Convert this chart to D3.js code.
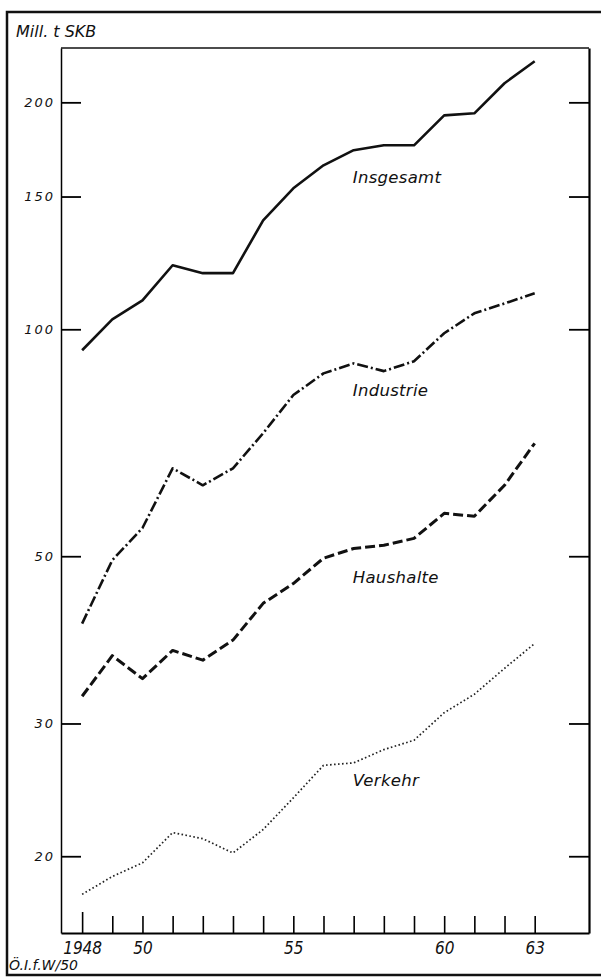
<!DOCTYPE html>
<html>
<head>
<meta charset="utf-8">
<script src="https://cdn.jsdelivr.net/npm/d3@7"></script>
<style>
  body { margin: 0; background: #fff; }
  text { font-family: "DejaVu Sans", sans-serif; font-style: italic; fill: #111; }
</style>
</head>
<body>
<div class="chart"></div>
<script>
// data (Mill. t SKB, log scale)
const years = d3.range(1948, 1964);
const insgesamt = [93.8, 103.1, 109.2, 121.6, 118.7, 118.7, 139.5, 153.8, 165, 172.8, 175.4, 175.4, 192.2, 193.4, 212, 226.7];
const industrie = [40.7, 49.4, 54.5, 65.4, 62.1, 65.4, 72.8, 81.8, 87.4, 90.1, 88.0, 90.7, 98.8, 105, 108.2, 111.6];
const haushalte = [32.6, 36.9, 34.4, 37.5, 36.4, 38.7, 43.3, 46.0, 49.7, 51.2, 51.7, 52.8, 57.0, 56.5, 62.1, 70.6];
const verkehr = [17.8, 18.8, 19.6, 21.5, 21.1, 20.2, 21.7, 23.9, 26.4, 26.6, 27.7, 28.5, 31.0, 32.8, 35.5, 38.3];

const yTicks = [20, 30, 50, 100, 150, 200];
const xLabelYears = [1948, 1950, 1955, 1960, 1963];
const xLabelTexts = ["1948", "50", "55", "60", "63"];
const seriesNames = ["Insgesamt", "Industrie", "Haushalte", "Verkehr"];
// where the name of each line sits (year, value)
const nameAt = [[1956.97, 159], [1956.97, 83.1], [1956.97, 46.9], [1956.97, 25.2]];

const W = 601, H = 977;
const margin = {top: 48, right: 12, bottom: 44, left: 61};
const w = W - margin.left - margin.right;
const h = H - margin.top - margin.bottom;

const svg = d3.select('.chart').append('svg')
  .attr('width', W)
  .attr('height', H);

// outer frame, open on the right
svg.append('path')
  .attr('d', `M601,12 H7 V975 H601`)
  .attr('fill', 'none')
  .attr('stroke', '#111')
  .attr('stroke-width', 2.5);

svg.append('text')
  .attr('x', 16).attr('y', 37)
  .style('font-size', '16px')
  .text('Mill. t SKB');

svg.append('text')
  .attr('x', 9).attr('y', 970)
  .style('font-size', '14px')
  .text('Ö.I.f.W/50');

const g = svg.append('g')
  .attr('transform', `translate(${margin.left},${margin.top})`);

const x = d3.scaleLinear().domain([1947.3, 1964.8]).range([0, w]);
const y = d3.scaleLog().domain([15.82, 236.1]).range([h, 0]);

// plot box top
g.append('line')
  .attr('x1', 0).attr('x2', w).attr('y1', 0).attr('y2', 0)
  .attr('stroke', '#111').attr('stroke-width', 1.5);

const left = g.append('g')
  .call(d3.axisLeft(y).tickValues(yTicks).tickSize(-20).tickSizeOuter(0).tickPadding(6)
    .tickFormat(d3.format('d')));
left.select('.domain').attr('stroke-width', 1.5);
left.selectAll('.tick line').attr('stroke-width', 1.8);
left.selectAll('text')
  .style('font-size', '13px')
  .style('letter-spacing', '2px')
  .style('font-family', '"DejaVu Sans", sans-serif');

const right = g.append('g')
  .attr('transform', `translate(${w},0)`)
  .call(d3.axisRight(y).tickValues(yTicks).tickSize(-20).tickSizeOuter(0).tickFormat(''));
right.select('.domain').attr('stroke-width', 2.2);
right.selectAll('.tick line').attr('stroke-width', 1.8);

const bottom = g.append('g')
  .attr('transform', `translate(0,${h})`)
  .call(d3.axisBottom(x).tickValues(years).tickSize(-17).tickSizeOuter(0).tickPadding(9)
    .tickFormat(d => {
      const i = xLabelYears.indexOf(d);
      return i < 0 ? '' : xLabelTexts[i];
    }));
bottom.select('.domain').attr('stroke-width', 1.8);
bottom.selectAll('.tick line').attr('stroke-width', 1.6);
bottom.selectAll('.tick line').filter(d => d === years[0]).attr('y2', -21);
bottom.selectAll('text')
  .style('font-size', '17px')
  .style('font-family', '"DejaVu Sans Condensed", "DejaVu Sans", sans-serif');

const line = d3.line()
  .x((d, i) => x(years[i]))
  .y(d => y(d));

const styles = [
  {width: 2.6, dash: null, color: '#111'},
  {width: 2.6, dash: '11,3,2,3', color: '#111'},
  {width: 3, dash: '10,4', color: '#111'},
  {width: 1.7, dash: '1.6,2.4', color: '#222'}
];

[insgesamt, industrie, haushalte, verkehr].forEach((s, k) => {
  g.append('path')
    .datum(s)
    .attr('fill', 'none')
    .attr('stroke', styles[k].color)
    .attr('stroke-width', styles[k].width)
    .attr('stroke-dasharray', styles[k].dash)
    .attr('stroke-linejoin', 'round')
    .attr('d', line);
});

g.selectAll('.name')
  .data(seriesNames)
  .enter().append('text')
    .attr('class', 'name')
    .attr('x', (d, i) => x(nameAt[i][0]))
    .attr('y', (d, i) => y(nameAt[i][1]))
    .attr('dy', '0.35em')
    .style('font-size', '16.5px')
    .style('letter-spacing', '0.3px')
    .style('font-family', '"DejaVu Sans", sans-serif')
    .text(d => d);
</script>
</body>
</html>
